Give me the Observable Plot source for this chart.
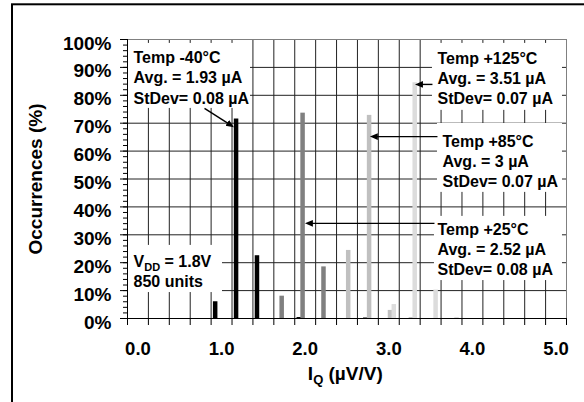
<!DOCTYPE html>
<html><head><meta charset="utf-8">
<script src="https://cdn.jsdelivr.net/npm/d3@7"></script>
<script src="https://cdn.jsdelivr.net/npm/@observablehq/plot@0.6"></script>
<style>
html,body{margin:0;padding:0;background:#fff;}
#chart{width:584px;height:402px;overflow:hidden;}
</style></head><body><div id="chart"></div>
<script>
// ---- data ----
const bins = [0.00,0.25,0.50,0.75,1.00,1.25,1.50,1.75,2.00,2.25,2.50,2.75,3.00,3.25,3.50,3.75,4.00,4.25,4.50,4.75,5.00];
const series = ["Temp -40°C","Temp +25°C","Temp +85°C","Temp +125°C"];
const occM40  = [0,0,0,0,6.0,71.5,22.5,0,0.35,0,0,0,0,0,0,0,0,0,0,0,0];
const occP25  = [0,0,0,0,0,0,0,8.0,73.6,18.5,0,0.35,0,0,0,0,0,0,0,0,0];
const occP85  = [0,0,0,0,0,0,0,0,0,0,24.4,72.8,2.9,0.35,0,0,0,0,0,0,0];
const occP125 = [0,0,0,0,0,0,0,0,0,0,0,0,5.0,84.5,10.2,0.35,0,0,0,0,0];
const yTicks = [0,10,20,30,40,50,60,70,80,90,100];
const xTickLabels = [0,1,2,3,4,5];

// annotation texts
const noteM40  = ["Temp -40°C","Avg. = 1.93 µA","StDev= 0.08 µA"];
const noteP125 = ["Temp +125°C","Avg. = 3.51 µA","StDev= 0.07 µA"];
const noteP85  = ["Temp +85°C","Avg. = 3 µA","StDev= 0.07 µA"];
const noteP25  = ["Temp +25°C","Avg. = 2.52 µA","StDev= 0.08 µA"];
const noteVdd  = ["V_DD = 1.8V","850 units"];
// annotation anchors (data units: x, first-line baseline y)
const noteAnchors = [[-0.053,91.4],[3.582,91.2],[3.642,61.6],[3.582,30.1],[-0.053,18.6]];
// annotation boxes [x1,x2,y1,y2]
const noteBoxes = [[-0.113,1.346,75.3,98.6],[3.522,5.077,74.6,98.6],[3.582,5.077,45.2,69.9],[3.546,5.077,13.6,36.6],[-0.113,1.011,9.3,26.2]];
// arrows [x1,y1,x2,y2]
const noteArrows = [[0.796,75.3,1.115,69.2],[3.522,83.9,3.352,83.9],[3.582,65.2,2.813,65.2],[3.546,34.1,2.036,34.1]];

// ---- build tables ----
const colors = ["#000000","#808080","#c0c0c0","#dcdcdc"];
const table = [];
[occM40, occP25, occP85, occP125].forEach((arr, s) =>
  arr.forEach((v, i) => { if (v > 0) table.push({bin: bins[i], s, series: series[s], value: v}); }));
const edges = bins.map(b => b - 0.125).concat([bins[bins.length - 1] + 0.125]);
const minor = d3.range(0, 101, 2);
const START = 0.0275, STEP = 0.0454, WIDTH = 0.0538;

const lines = [];
[noteM40, noteP125, noteP85, noteP25, noteVdd].forEach((arr, k) =>
  arr.forEach((t, i) => lines.push({x: noteAnchors[k][0], y: noteAnchors[k][1] - i * 7.17, t})));
const boxes = noteBoxes.map(b => ({x1: b[0], x2: b[1], y1: b[2], y2: b[3]}));
const arrows = noteArrows.map(a => ({x1: a[0], y1: a[1], x2: a[2], y2: a[3]}));

const bold = {fontWeight: "bold"};
const chart = Plot.plot({
  width: 584, height: 402,
  marginLeft: 127, marginRight: 18, marginTop: 39, marginBottom: 84,
  style: {fontFamily: "'Liberation Sans', Arial, sans-serif", fontWeight: "bold", background: "#fff", color: "#000"},
  x: {type: "linear", domain: [-0.125, 5.125]},
  y: {type: "linear", domain: [0, 100]},
  color: {domain: series, range: colors},
  marks: [
    Plot.gridX(edges, {stroke: "#222", strokeOpacity: 1}),
    Plot.gridY(yTicks, {stroke: "#222", strokeOpacity: 1}),
    Plot.frame({stroke: "#808080"}),
    Plot.rect(table, {
      x1: d => d.bin - 0.125 + START + d.s * STEP,
      x2: d => d.bin - 0.125 + START + d.s * STEP + WIDTH,
      y1: 0, y2: "value", fill: "series"
    }),
    Plot.ruleY([0], {stroke: "#000"}),
    Plot.ruleX([-0.125], {stroke: "#000"}),
    Plot.axisX(edges, {tickSize: 7, tickFormat: () => "", label: null}),
    Plot.axisX(xTickLabels, {tickSize: 0, tickPadding: 23, tickFormat: d3.format(".1f"), fontSize: 18.5, label: null, ...bold}),
    Plot.axisY(minor, {tickSize: 4, tickFormat: () => "", label: null}),
    Plot.axisY(yTicks, {tickSize: 7, tickFormat: () => "", label: null}),
    Plot.axisY(yTicks, {tickSize: 0, tickPadding: 16, dy: 4, tickFormat: d => d + "%", fontSize: 19, label: null, ...bold}),
    Plot.rect(boxes, {x1: "x1", x2: "x2", y1: "y1", y2: "y2", fill: "#fff"}),
    Plot.link(arrows, {x1: "x1", y1: "y1", x2: "x2", y2: "y2", stroke: "#000", strokeWidth: 1.4, markerEnd: "arrow"}),
    Plot.text(lines, {x: "x", y: "y", text: "t", textAnchor: "start", lineAnchor: "bottom", fontSize: 16, fill: "#000", ...bold}),
    Plot.text(["Occurrences (%)"], {text: d => d, frameAnchor: "left", textAnchor: "middle", lineAnchor: "middle", rotate: -90, dx: -91.5, fontSize: 19, fill: "#000", ...bold}),
    Plot.text(["I_Q (µV/V)"], {text: d => d, frameAnchor: "bottom", textAnchor: "middle", lineAnchor: "middle", dy: 55, dx: -1.7, fontSize: 19, fill: "#000", ...bold})
  ]
});

// filled arrowheads
chart.querySelectorAll("marker path").forEach(p => {
  p.setAttribute("d", "M-5,-3.6L3.5,0L-5,3.6Z");
  p.setAttribute("fill", "#000");
  p.setAttribute("stroke", "none");
});
// subscripts
chart.querySelectorAll("text").forEach(t => {
  const s = t.textContent;
  if (s === "V_DD = 1.8V" || s === "I_Q (µV/V)") {
    const [main, rest] = s.split("_");
    const sub = rest.split(" ")[0];
    const tail = rest.slice(sub.length);
    t.textContent = "";
    const ns = "http://www.w3.org/2000/svg";
    const a = document.createElementNS(ns, "tspan"); a.textContent = main; t.appendChild(a);
    const b = document.createElementNS(ns, "tspan"); b.textContent = sub;
    b.setAttribute("dy", "4"); b.setAttribute("font-size", s.startsWith("V") ? "11" : "13"); t.appendChild(b);
    const c = document.createElementNS(ns, "tspan"); c.textContent = tail; c.setAttribute("dy", "-4"); t.appendChild(c);
  }
});
// outer picture border (top and left visible)
const border = document.createElementNS("http://www.w3.org/2000/svg", "rect");
border.setAttribute("x", 12); border.setAttribute("y", 4.3);
border.setAttribute("width", 700); border.setAttribute("height", 600);
border.setAttribute("fill", "none"); border.setAttribute("stroke", "#000"); border.setAttribute("stroke-width", 2);
chart.appendChild(border);
document.getElementById("chart").appendChild(chart);
</script></body></html>
